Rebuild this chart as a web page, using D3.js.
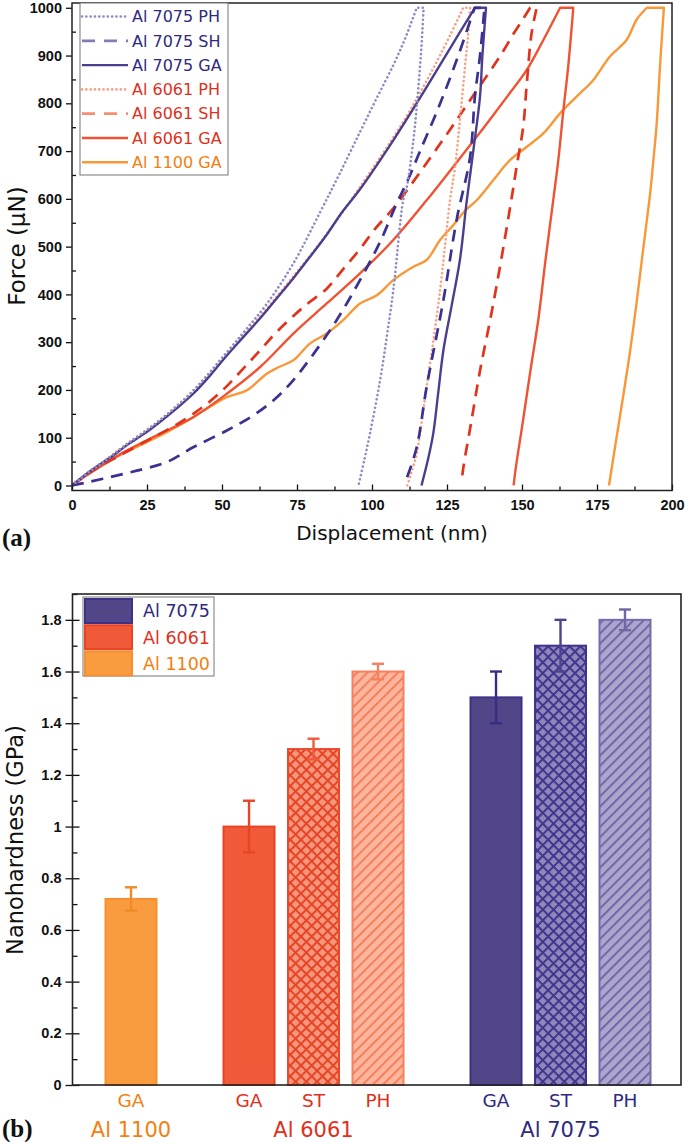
<!DOCTYPE html>
<html><head><meta charset="utf-8">
<script src="https://cdn.jsdelivr.net/npm/d3@7"></script>
<style>
body{margin:0;background:#fff;}
svg{display:block;}
</style></head><body>
<svg id="c" width="685" height="1142"></svg>
<script>
// ---------- Panel (a): load-displacement curves [displacement nm, force uN] ----------
const seriesNames = ["Al 7075 PH","Al 7075 SH","Al 7075 GA","Al 6061 PH","Al 6061 SH","Al 6061 GA","Al 1100 GA"];
const al7075PH = [[0,0],[2,10],[5,25],[10,47],[18,85],[29,135],[40,196],[51.6,279],[58.2,328],[64.9,380],[73.8,465],[82.7,572],[89,650],[96,740],[101.5,810],[107.1,880],[111,935],[114.9,1000],[117.2,1000],[116.6,930],[116,877],[115,800],[113.8,723],[111.6,625],[110.4,597],[107.1,409],[105,315],[102.7,220],[99.3,108],[97.5,55],[95.5,0]];
const al7075SH = [[0,0],[3.8,5],[11.6,16],[21.6,31],[31.6,49],[40.4,80],[51.6,115],[60,145],[67.1,178],[73,215],[79.3,265],[88.2,346],[96,430],[102.7,510],[108.2,590],[112,640],[116,700],[122.1,790],[128.2,890],[134.2,1000],[137.5,1000],[136,900],[134.3,814],[132.7,688],[128.2,556],[123.8,388],[118.2,206],[114.9,80],[111.5,14],[110.8,3]];
const al7075GA = [[0,0],[2,10],[5,25],[10,47],[14,64],[18.2,84],[24,108],[29.3,133],[35,162],[40.4,192],[46,230],[51.6,272],[57,310],[62.7,350],[68,390],[73.8,434],[79,476],[84.9,525],[90,572],[96,620],[106,712],[112.7,778],[118,832],[123.8,892],[129,946],[134.3,1000],[138,1000],[136.8,900],[136,814],[133.8,702],[131.6,597],[129.3,472],[126.5,375],[123.8,283],[122,190],[120.4,108],[118.5,50],[116.5,0]];
const al6061PH = [[0,0],[2,10],[5,26],[10,48],[18,86],[29,136],[40,196],[51.6,276],[62.7,354],[73.8,438],[84.9,526],[96,625],[106,718],[112,778],[116,822],[121,880],[126,942],[130.4,1000],[132.7,1000],[132,940],[131,877],[129.3,765],[127.7,667],[126,597],[124.3,500],[122.7,409],[120.5,305],[118.2,206],[116.5,130],[114.9,66],[113,25],[111.8,0]];
const al6061SH = [[0,0],[2,10],[5,23],[10,43],[16,63],[23.8,90],[29.3,108],[35,128],[40.4,150],[46,176],[51.6,208],[57,244],[62.7,283],[68,320],[73.8,355],[79,383],[84.9,412],[90,450],[96,495],[101,537],[107.1,580],[112.7,627],[118.2,675],[123.8,725],[129.3,775],[135,828],[140.4,877],[144,912],[147.1,945],[150,973],[152.7,1000],[154.9,1000],[153.2,947],[151.6,842],[150.4,751],[148.2,667],[146.6,604],[143,470],[139.5,350],[136,240],[133,130],[130.5,40],[130,15]];
const al6061GA = [[0,0],[2,9],[5,22],[10,42],[18.2,73],[29.3,108],[40.4,143],[51.6,192],[62.7,248],[73.8,318],[84.9,381],[96,444],[107.1,514],[118.2,597],[129.3,685],[134.9,730],[140.4,775],[146,822],[151.6,870],[156.9,930],[162.7,1000],[167.1,1000],[165.4,877],[163.8,786],[162.1,681],[160.4,597],[157.8,470],[155.5,350],[152.8,240],[150.2,130],[148,40],[147.2,0]];
const al1100GA = [[0,0],[2,9],[5,22],[10,42],[18,70],[29,103],[40.4,143],[46,165],[51.6,185],[58.2,199],[64.9,234],[69,248],[73.8,262],[79.3,297],[84.9,318],[90.4,346],[96,381],[101.6,398],[107.1,430],[113.8,458],[118.2,472],[122.7,514],[127.1,545],[131,575],[134.9,597],[140.4,639],[146,681],[151.6,709],[157.1,737],[162.7,779],[168.2,814],[173.8,849],[179.3,898],[184.9,933],[188.2,975],[191.6,1000],[197.3,1000],[196,877],[194.9,758],[193.8,681],[192.7,611],[190.5,500],[188.3,388],[186,280],[183.5,178],[181,80],[179,0]];
const xTicksA = [0,25,50,75,100,125,150,175,200];
const yTicksA = [0,100,200,300,400,500,600,700,800,900,1000];

// ---------- Panel (b): nanohardness ----------
const alloyGroups = ["Al 1100","Al 6061","Al 7075"];
const barAlloy = ["Al 1100","Al 6061","Al 6061","Al 6061","Al 7075","Al 7075","Al 7075"];
const barTreatment = ["GA","GA","ST","PH","GA","ST","PH"];
const hardness = [0.72,1.0,1.3,1.6,1.5,1.7,1.8];
const hardnessErr = [0.045,0.1,0.04,0.03,0.1,0.1,0.04];
const yTicksB = [0,0.2,0.4,0.6,0.8,1,1.2,1.4,1.6,1.8];

// ---------- styles ----------
const lineStyle = {
  "Al 7075 PH":{c:"#8f89c6",dash:"0.1 4.2",w:2.6,lc:"#8f89c6"},
  "Al 7075 SH":{c:"#3b3190",dash:"12 8",w:2.7,lc:"#837bb4"},
  "Al 7075 GA":{c:"#4a3f8f",dash:null,w:2.4,lc:"#4a3f8f"},
  "Al 6061 PH":{c:"#f8a083",dash:"0.1 4.2",w:2.6,lc:"#f8a083"},
  "Al 6061 SH":{c:"#e0341d",dash:"12 8",w:2.7,lc:"#f58e6e"},
  "Al 6061 GA":{c:"#ef5332",dash:null,w:2.4,lc:"#ef5332"},
  "Al 1100 GA":{c:"#f89838",dash:null,w:2.4,lc:"#f89838"}
};
const textColor = {"Al 7075":"#2f2a80","Al 6061":"#e0301c","Al 1100":"#f27f10"};
const seriesData = [al7075PH,al7075SH,al7075GA,al6061PH,al6061SH,al6061GA,al1100GA];

const svg = d3.select("#c");
const WIDE = "'DejaVu Sans', Verdana, sans-serif";
const BOLD = "'Liberation Sans', Arial, sans-serif";

// ================= Panel A =================
const A = {l:72, r:672, t:3, b:490.5};
const xA = d3.scaleLinear().domain([0,200]).range([A.l, A.r]);
const yA = d3.scaleLinear().domain([-10.5,1010]).range([A.b, A.t]);
const gA = svg.append("g");

svg.append("defs").append("clipPath").attr("id","clipA")
  .append("rect").attr("x",A.l).attr("y",A.t).attr("width",A.r-A.l).attr("height",A.b-A.t);

const smooth = d3.line().x(d=>xA(d[0])).y(d=>yA(d[1])).curve(d3.curveCatmullRom.alpha(0.5));
// loading and unloading branches are smoothed separately, the hold at peak load is straight
function curvePath(pts){
  const fmax = d3.max(pts, d=>d[1]);
  const i0 = pts.findIndex(d=>d[1]===fmax);
  let i1 = i0; while(i1+1<pts.length && pts[i1+1][1]===fmax) i1++;
  const load = pts.slice(0,i0+1), unload = pts.slice(i1);
  let p = smooth(load);
  for(let k=i0+1;k<=i1;k++) p += `L${xA(pts[k][0])},${yA(pts[k][1])}`;
  p += smooth(unload).replace(/^M[^A-Za-z]*/,"");
  return p;
}
const order = [6,5,4,3,2,1,0];
gA.append("g").attr("clip-path","url(#clipA)").selectAll("path").data(order).join("path")
  .attr("d", i=>curvePath(seriesData[i]))
  .attr("fill","none")
  .attr("stroke", i=>lineStyle[seriesNames[i]].c)
  .attr("stroke-width", i=>lineStyle[seriesNames[i]].w)
  .attr("stroke-dasharray", i=>lineStyle[seriesNames[i]].dash)
  .attr("stroke-linecap", i=>lineStyle[seriesNames[i]].dash && lineStyle[seriesNames[i]].dash.startsWith("0.1") ? "round" : "butt")
  .attr("stroke-linejoin","round");

// axes A
const axYmaj = gA.append("g").attr("transform",`translate(${A.l},0)`)
  .call(d3.axisLeft(yA).tickValues(yTicksA).tickSize(6).tickPadding(4).tickFormat(d3.format("d")));
const axYmin = gA.append("g").attr("transform",`translate(${A.l},0)`)
  .call(d3.axisRight(yA).tickValues(yTicksA.slice(0,-1).map(v=>v+50)).tickSize(4).tickFormat(""));
const axXmaj = gA.append("g").attr("transform",`translate(0,${A.b})`)
  .call(d3.axisTop(xA).tickValues(xTicksA).tickSize(6).tickFormat(""));
const axXmin = gA.append("g").attr("transform",`translate(0,${A.b})`)
  .call(d3.axisTop(xA).tickValues(xTicksA.slice(0,-1).map(v=>v+12.5)).tickSize(4).tickFormat(""));
const axXlab = gA.append("g").attr("transform",`translate(0,${A.b})`)
  .call(d3.axisBottom(xA).tickValues(xTicksA).tickSize(0).tickPadding(9).tickFormat(d3.format("d")));
[axYmaj,axYmin,axXmaj,axXmin,axXlab].forEach(a=>{
  a.select(".domain").remove();
  a.selectAll("line").attr("stroke","#111").attr("stroke-width",1.3);
  a.selectAll("text").attr("font-family",BOLD).attr("font-weight","bold").attr("font-size",14.5).attr("fill","#111");
});
gA.append("rect").attr("x",A.l).attr("y",A.t).attr("width",A.r-A.l).attr("height",A.b-A.t)
  .attr("fill","none").attr("stroke","#222").attr("stroke-width",1.5);

// legend A
const legA = gA.append("g");
legA.append("rect").attr("x",80).attr("y",3).attr("width",148).attr("height",172)
  .attr("fill","#fff").attr("stroke","#777").attr("stroke-width",1);
seriesNames.forEach((n,i)=>{
  const y = 16.5 + i*24.3;
  const st = lineStyle[n];
  legA.append("line").attr("x1",82).attr("x2",128).attr("y1",y).attr("y2",y)
    .attr("stroke",st.lc).attr("stroke-width",st.w)
    .attr("stroke-dasharray", st.dash ? (st.dash.startsWith("0.1") ? "0.1 4.2" : "13 9") : null)
    .attr("stroke-linecap", st.dash && st.dash.startsWith("0.1") ? "round":"butt");
  legA.append("text").attr("x",132).attr("y",y).attr("dy","0.36em")
    .attr("font-family",WIDE).attr("font-size",16).attr("fill", textColor[n.slice(0,7)]).text(n);
});

gA.append("text").attr("transform","translate(25,246) rotate(-90)").attr("text-anchor","middle")
  .attr("font-family",WIDE).attr("font-size",23).attr("fill","#111").text("Force (\u03bcN)");
gA.append("text").attr("x",392).attr("y",540).attr("text-anchor","middle")
  .attr("font-family",WIDE).attr("font-size",20).attr("fill","#111").text("Displacement (nm)");
gA.append("text").attr("x",2).attr("y",546)
  .attr("font-family","'Liberation Serif','Times New Roman',serif").attr("font-weight","bold").attr("font-size",25).attr("fill","#111").text("(a)");

// ================= Panel B =================
const B = {l:72.5, r:681, t:594, b:1085};
const yB = d3.scaleLinear().domain([0,1.9]).range([B.b, B.t]);
const groupGap = 0.83;
const slots = [];
{ let p = 0, prev = null;
  barAlloy.forEach((g,i)=>{ if(prev!==null && g!==prev) p += groupGap; slots.push(p); p += 1; prev = g; }); }
const xB = d3.scaleLinear().domain([0, slots[slots.length-1]]).range([131, 625]);
const barW = 51;

const defs = svg.append("defs");
function hatch(id, bg, fg, cross, lw, size){
  const p = defs.append("pattern").attr("id",id).attr("patternUnits","userSpaceOnUse")
    .attr("width",size).attr("height",size).attr("patternTransform","rotate(45)");
  p.append("rect").attr("width",size).attr("height",size).attr("fill",bg);
  p.append("rect").attr("x",0).attr("y",0).attr("width",lw).attr("height",size).attr("fill",fg);
  if(cross) p.append("rect").attr("x",0).attr("y",0).attr("width",size).attr("height",lw).attr("fill",fg);
}
hatch("st6061","#f6977c","#e54426",true,2.0,7.6);
hatch("ph6061","#fdb69b","#f47f5f",false,2.0,7.2);
hatch("st7075","#8f86bb","#40368d",true,2.0,7.6);
hatch("ph7075","#aca6ce","#7068a6",false,2.0,7.2);

const barStyle = {
  "Al 1100 GA":{fill:"#f99c3f",stroke:"#f78f30",err:"#f08a26"},
  "Al 6061 GA":{fill:"#f05a38",stroke:"#e84424",err:"#e84426"},
  "Al 6061 ST":{fill:"url(#st6061)",stroke:"#ea4a2a",err:"#ee5a3a"},
  "Al 6061 PH":{fill:"url(#ph6061)",stroke:"#f5805f",err:"#f3805f"},
  "Al 7075 GA":{fill:"#524688",stroke:"#3d3287",err:"#372d84"},
  "Al 7075 ST":{fill:"url(#st7075)",stroke:"#3e348c",err:"#4d428e"},
  "Al 7075 PH":{fill:"url(#ph7075)",stroke:"#756ca8",err:"#6f66a4"}
};
const gB = svg.append("g");
const idx = d3.range(hardness.length);
gB.selectAll("rect.bar").data(idx).join("rect").attr("class","bar")
  .attr("x", i=>xB(slots[i])-barW/2).attr("width",barW)
  .attr("y", i=>yB(hardness[i])).attr("height", i=>yB(0)-yB(hardness[i]))
  .attr("fill", i=>barStyle[barAlloy[i]+" "+barTreatment[i]].fill)
  .attr("stroke", i=>barStyle[barAlloy[i]+" "+barTreatment[i]].stroke).attr("stroke-width",2);
const eb = gB.selectAll("g.eb").data(idx).join("g").attr("class","eb")
  .attr("stroke", i=>barStyle[barAlloy[i]+" "+barTreatment[i]].err).attr("stroke-width",2.4);
eb.append("line").attr("x1",i=>xB(slots[i])).attr("x2",i=>xB(slots[i]))
  .attr("y1",i=>yB(hardness[i]+hardnessErr[i])).attr("y2",i=>yB(hardness[i]-hardnessErr[i]));
eb.append("line").attr("x1",i=>xB(slots[i])-6).attr("x2",i=>xB(slots[i])+6)
  .attr("y1",i=>yB(hardness[i]+hardnessErr[i])).attr("y2",i=>yB(hardness[i]+hardnessErr[i]));
eb.append("line").attr("x1",i=>xB(slots[i])-6).attr("x2",i=>xB(slots[i])+6)
  .attr("y1",i=>yB(hardness[i]-hardnessErr[i])).attr("y2",i=>yB(hardness[i]-hardnessErr[i]));

const bYmaj = gB.append("g").attr("transform",`translate(${B.l},0)`)
  .call(d3.axisLeft(yB).tickValues(yTicksB).tickSize(7).tickPadding(4).tickFormat(d=>String(+d.toFixed(1))));
const bYmaj2 = gB.append("g").attr("transform",`translate(${B.l},0)`)
  .call(d3.axisRight(yB).tickValues(yTicksB).tickSize(7).tickFormat(""));
const bYmin = gB.append("g").attr("transform",`translate(${B.l},0)`)
  .call(d3.axisRight(yB).tickValues(yTicksB.map(v=>v+0.1)).tickSize(5).tickFormat(""));
[bYmaj,bYmaj2,bYmin].forEach(a=>{
  a.select(".domain").remove();
  a.selectAll("line").attr("stroke","#111").attr("stroke-width",1.3);
  a.selectAll("text").attr("font-family",BOLD).attr("font-weight","bold").attr("font-size",14.5).attr("fill","#111");
});
gB.append("rect").attr("x",B.l).attr("y",B.t).attr("width",B.r-B.l).attr("height",B.b-B.t)
  .attr("fill","none").attr("stroke","#222").attr("stroke-width",1.6);

gB.selectAll("text.cat").data(idx).join("text").attr("class","cat")
  .attr("x", i=>xB(slots[i])).attr("y",1107).attr("text-anchor","middle")
  .attr("font-family",WIDE).attr("font-size",18.5).attr("fill", i=>textColor[barAlloy[i]])
  .text(i=>barTreatment[i]);
gB.selectAll("text.grp").data(alloyGroups).join("text").attr("class","grp")
  .attr("x", g=>d3.mean(idx.filter(i=>barAlloy[i]===g), i=>xB(slots[i])))
  .attr("y",1137).attr("text-anchor","middle")
  .attr("font-family",WIDE).attr("font-size",21).attr("fill", g=>textColor[g]).text(g=>g);

gB.append("text").attr("transform","translate(23,840) rotate(-90)").attr("text-anchor","middle")
  .attr("font-family",WIDE).attr("font-size",22.5).attr("fill","#111").text("Nanohardness (GPa)");
gB.append("text").attr("x",2).attr("y",1137)
  .attr("font-family","'Liberation Serif','Times New Roman',serif").attr("font-weight","bold").attr("font-size",25).attr("fill","#111").text("(b)");

const legB = gB.append("g");
legB.append("rect").attr("x",83).attr("y",597).attr("width",131).attr("height",79)
  .attr("fill","#fff").attr("stroke","#777").attr("stroke-width",1);
const legItems = ["Al 7075","Al 6061","Al 1100"];
const legFill = {"Al 7075":["#524688","#3d3287"],"Al 6061":["#f05a38","#e84424"],"Al 1100":["#f99c3f","#f78f30"]};
legItems.forEach((g,i)=>{
  const y = 598 + i*26.2;
  legB.append("rect").attr("x",85).attr("y",y+1).attr("width",47).attr("height",24)
    .attr("fill",legFill[g][0]).attr("stroke",legFill[g][1]).attr("stroke-width",2);
  legB.append("text").attr("x",143).attr("y",y+13).attr("dy","0.36em")
    .attr("font-family",WIDE).attr("font-size",17.5).attr("fill",textColor[g]).text(g);
});
</script>
</body></html>
